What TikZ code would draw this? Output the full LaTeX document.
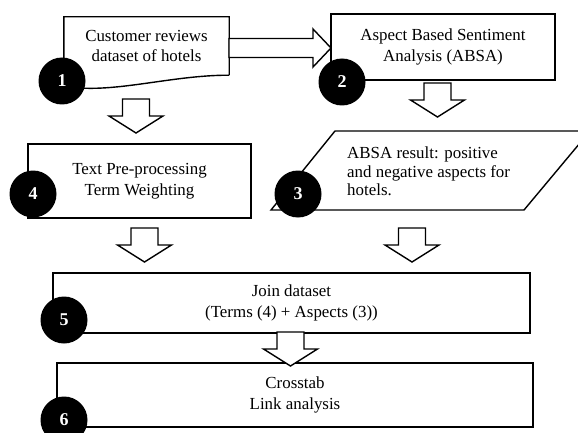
\documentclass[tikz,border=0pt]{standalone}
\usepackage{fontspec}
\setmainfont{Liberation Serif}

\tikzset{
  stage/.style={align=center, inner sep=0pt, font=\fontsize{16.9}{20.7}\selectfont},
  stagebox/.style={stage, draw, line width=1.4pt},
  fatarrow/.style={draw, line width=1.4pt, fill=white, line join=miter},
  downarrow/.pic={\path[fatarrow] (-13.5,0) -- (13.5,0) -- (13.5,17) -- (27,17)
    -- (0,34) -- (-27,17) -- (-13.5,17) -- cycle;}
}

\begin{document}
\begin{tikzpicture}[x=1pt, y=-1pt]
    \path[use as bounding box, fill=white] (0,0) rectangle (578,433);
    \clip (0,0) rectangle (578,433);

    \node[stage, minimum width=165pt, minimum height=58pt] (reviews) at (146.5,46)
      {Customer reviews\\dataset of hotels};
    \draw[line width=1.4pt] (reviews.south east) -- (reviews.north east)
      -- (reviews.north west) -- (64,86) .. controls (110,95) and (170,75) .. (reviews.south east);
    \node[stagebox, minimum width=224pt, minimum height=66pt] (absa) at (443,47)
      {Aspect Based Sentiment\\Analysis (ABSA)};
    \node[stagebox, minimum width=223pt, minimum height=74pt] (prep) at (139.5,181)
      {Text Pre-processing\\Term Weighting};
    \draw[line width=1.4pt] (271,210) -- (335,131) -- (590,131) -- (524,210) -- cycle;
    \node[stage, align=left, anchor=west, font=\fontsize{16.9}{18.6}\selectfont] (result)
      at (347,171.5) {ABSA result: positive\\and negative aspects for\\hotels.};
    \node[stagebox, minimum width=477pt, minimum height=60pt] (join) at (291.5,303)
      {Join dataset\\(Terms (4) + Aspects (3))};
    \node[stagebox, minimum width=476pt, minimum height=64pt] (cross) at (295,395)
      {Crosstab\\Link analysis};

    \path[fatarrow] (229,38.5) -- (313,38.5) -- (313,29) -- (331,48) -- (313,67)
      -- (313,57.5) -- (229,57.5) -- cycle;
    \pic at (136,99) {downarrow};
    \pic at (437.5,83) {downarrow};
    \pic at (144.5,228) {downarrow};
    \pic at (412,228) {downarrow};
    \pic at (290.5,332) {downarrow};

    \begin{scope}[every node/.style={circle, fill=black, text=white, minimum size=47pt,
        inner sep=0pt, font=\fontsize{18}{18}\selectfont\bfseries}]
      \node (n1) at (62,81) {1};
      \node (n2) at (342,82) {2};
      \node (n3) at (298,194) {3};
      \node (n4) at (33,194) {4};
      \node (n5) at (64,320) {5};
      \node (n6) at (64,420) {6};
    \end{scope}
\end{tikzpicture}
\end{document}
